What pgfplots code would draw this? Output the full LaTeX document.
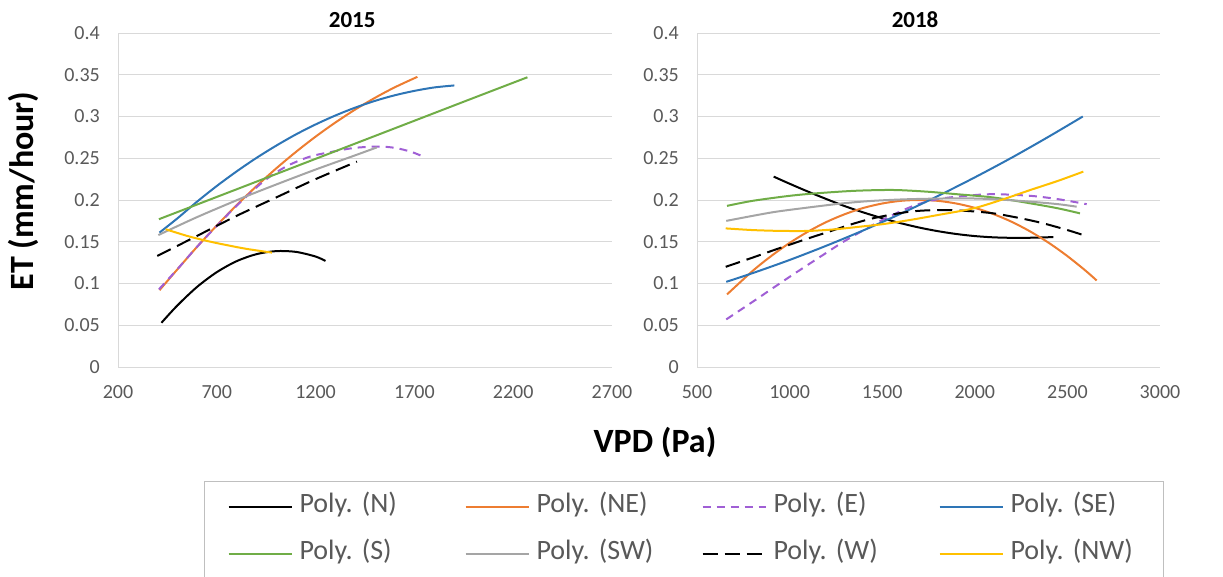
\documentclass[border=0pt]{standalone}
\usepackage{pgfplots}
\pgfplotsset{compat=1.18}
\usepackage{fontspec}
\setmainfont{Carlito}
\frenchspacing
\definecolor{cNE}{HTML}{ED7D31}
\definecolor{cE}{HTML}{A05FD5}
\definecolor{cSE}{HTML}{2E75B6}
\definecolor{cS}{HTML}{70AD47}
\definecolor{cSW}{HTML}{A5A5A5}
\definecolor{cNW}{HTML}{FFC000}
\definecolor{axgray}{HTML}{D9D9D9}
\definecolor{lab}{HTML}{595959}
\definecolor{leggray}{HTML}{BFBFBF}
\begin{document}
\begin{tikzpicture}
\useasboundingbox (0pt,0pt) rectangle (1223pt,-576pt);
\pgfplotsset{
  panel/.style={
    scale only axis, height=334pt,
    ymin=0, ymax=0.4,
    ytick={0,0.05,0.1,0.15,0.2,0.25,0.3,0.35,0.4},
    scaled ticks=false,
    axis lines=left,
    axis line style={draw=axgray, line width=1pt, -},
    major tick length=0pt,
    tick style={draw=none},
    ymajorgrids, grid style={draw=axgray, line width=1pt},
    yticklabel style={font=\fontsize{20}{24}\selectfont, text=lab, anchor=east, inner sep=0pt, xshift=-18pt,
      /pgf/number format/fixed, /pgf/number format/precision=2, /pgf/number format/assume math mode=true},
    xticklabel style={font=\fontsize{20}{24}\selectfont, text=lab, anchor=center, inner sep=0pt, yshift=-25pt,
      /pgf/number format/1000 sep={}, /pgf/number format/assume math mode=true},
    every axis title/.style={anchor=center, font=\bfseries\fontsize{23}{27}\selectfont},
    every axis plot/.append style={line width=2pt, smooth, no markers},
  },
  sN/.style={black},
  sNE/.style={cNE},
  sE/.style={cE, dash pattern=on 8pt off 6pt},
  sSE/.style={cSE},
  sS/.style={cS},
  sSW/.style={cSW},
  sW/.style={black, dash pattern=on 15pt off 7pt},
  sNW/.style={cNW},
}
\begin{axis}[panel,
  at={(118pt,-367pt)}, anchor=south west, width=494pt,
  xmin=200, xmax=2700, xtick={200,700,1200,1700,2200,2700},
  title={2015}, title style={at={(axis description cs:0.474,1.039)}},
  xlabel={VPD (Pa)}, ylabel={ET (mm/hour)},
  every axis x label/.style={at={(axis description cs:1.087,-0.2246)}, anchor=center, font=\bfseries\fontsize{34}{40}\selectfont},
  every axis y label/.style={at={(axis description cs:-0.1923,0.527)}, rotate=90, anchor=center, font=\bfseries\fontsize{34}{40}\selectfont},
  legend columns=4,
  legend cell align=left,
  legend image code/.code={\draw[#1, line width=2pt] (0pt,0pt) -- (63pt,0pt);},
  legend style={at={(axis description cs:0.174,-0.3413)}, anchor=north west,
    draw=leggray, line width=1.2pt, inner xsep=23pt, inner ysep=13pt,
    font=\fontsize{28}{32}\selectfont, text=lab,
    /tikz/every even column/.append style={column sep=35pt},
    /tikz/every odd column/.append style={column sep=7pt},
    row sep=23pt,
    nodes={inner sep=0pt, text height=18pt, text depth=6pt, text width=130pt, align=left}},
]
\addplot[sN] coordinates {(420,0.053) (500,0.0736) (600,0.0959) (700,0.1136) (800,0.1267) (900,0.1351) (1000,0.1388) (1100,0.1379) (1200,0.1323) (1250,0.127)};
\addlegendentry{Poly.\ (N)}
\addplot[sNE] coordinates {(410,0.092) (500,0.1168) (600,0.1439) (700,0.1695) (800,0.1937) (900,0.2164) (1000,0.2377) (1100,0.2575) (1200,0.2759) (1300,0.2928) (1400,0.3083) (1500,0.3223) (1600,0.3349) (1715,0.3475)};
\addlegendentry{Poly.\ (NE)}
\addplot[sE] coordinates {(407,0.093) (500,0.117) (600,0.144) (700,0.169) (800,0.193) (935,0.222) (1050,0.240) (1172,0.252) (1300,0.2585) (1400,0.2625) (1518,0.264) (1600,0.2625) (1680,0.258) (1737,0.2528)};
\addlegendentry{Poly.\ (E)}
\addplot[sSE] coordinates {(410,0.161) (500,0.1779) (600,0.1980) (700,0.2168) (800,0.2342) (900,0.2503) (1000,0.2650) (1100,0.2785) (1200,0.2905) (1300,0.3012) (1400,0.3106) (1500,0.3187) (1600,0.3254) (1700,0.3307) (1800,0.3348) (1902,0.3372)};
\addlegendentry{Poly.\ (SE)}
\addplot[sS] coordinates {(407,0.177) (800,0.2128) (1200,0.2493) (1600,0.2858) (2000,0.3223) (2272,0.347)};
\addlegendentry{Poly.\ (S)}
\addplot[sSW] coordinates {(404,0.158) (600,0.1795) (834,0.203) (1000,0.2185) (1200,0.2365) (1400,0.2535) (1510,0.263)};
\addlegendentry{Poly.\ (SW)}
\addplot[sW] coordinates {(399,0.133) (600,0.157) (800,0.181) (1000,0.203) (1200,0.225) (1409,0.246)};
\addlegendentry{Poly.\ (W)}
\addplot[sNW] coordinates {(441,0.165) (550,0.157) (650,0.151) (750,0.146) (850,0.1415) (979,0.137)};
\addlegendentry{Poly.\ (NW)}
\end{axis}
\begin{axis}[panel,
  at={(697pt,-367pt)}, anchor=south west, width=463pt,
  xmin=500, xmax=3000, xtick={500,1000,1500,2000,2500,3000},
  title={2018}, title style={at={(axis description cs:0.471,1.039)}},
]
\addplot[sN] coordinates {(914,0.228) (1000,0.2195) (1100,0.2100) (1200,0.2010) (1300,0.1925) (1400,0.1850) (1500,0.1782) (1600,0.1722) (1700,0.1670) (1800,0.1627) (1900,0.1593) (2000,0.1568) (2100,0.1553) (2200,0.1547) (2300,0.1548) (2424,0.1556)};
\addplot[sNE] coordinates {(662,0.0869) (800,0.1150) (900,0.1328) (1000,0.1486) (1100,0.1622) (1200,0.1738) (1300,0.1832) (1400,0.1906) (1500,0.1958) (1600,0.1990) (1700,0.2000) (1800,0.1990) (1900,0.1958) (2000,0.1906) (2100,0.1832) (2200,0.1738) (2300,0.1622) (2400,0.1486) (2500,0.1328) (2600,0.1150) (2658,0.1036)};
\addplot[sE] coordinates {(658,0.057) (800,0.078) (1000,0.108) (1200,0.137) (1306,0.152) (1500,0.176) (1669,0.193) (1800,0.201) (1950,0.205) (2100,0.207) (2300,0.205) (2450,0.201) (2604,0.195)};
\addplot[sSE] coordinates {(658,0.102) (800,0.1124) (1000,0.1282) (1200,0.1454) (1400,0.1638) (1600,0.1836) (1800,0.2047) (2000,0.2271) (2200,0.2508) (2400,0.2760) (2583,0.300)};
\addplot[sS] coordinates {(662,0.193) (800,0.199) (1000,0.205) (1144,0.208) (1350,0.211) (1558,0.212) (1741,0.210) (1900,0.207) (2101,0.203) (2300,0.196) (2450,0.190) (2568,0.184)};
\addplot[sSW] coordinates {(658,0.175) (800,0.181) (928,0.186) (1100,0.191) (1288,0.196) (1450,0.199) (1648,0.201) (1921,0.202) (2100,0.201) (2300,0.198) (2450,0.195) (2550,0.192)};
\addplot[sW] coordinates {(655,0.120) (800,0.131) (928,0.141) (1100,0.154) (1198,0.161) (1350,0.172) (1468,0.179) (1648,0.186) (1800,0.188) (1950,0.187) (2101,0.184) (2250,0.178) (2371,0.172) (2500,0.164) (2586,0.158)};
\addplot[sNW] coordinates {(655,0.166) (800,0.164) (950,0.163) (1108,0.163) (1250,0.165) (1378,0.168) (1500,0.171) (1648,0.176) (1800,0.182) (1993,0.190) (2155,0.201) (2300,0.212) (2450,0.223) (2586,0.234)};
\end{axis}
\end{tikzpicture}
\end{document}
